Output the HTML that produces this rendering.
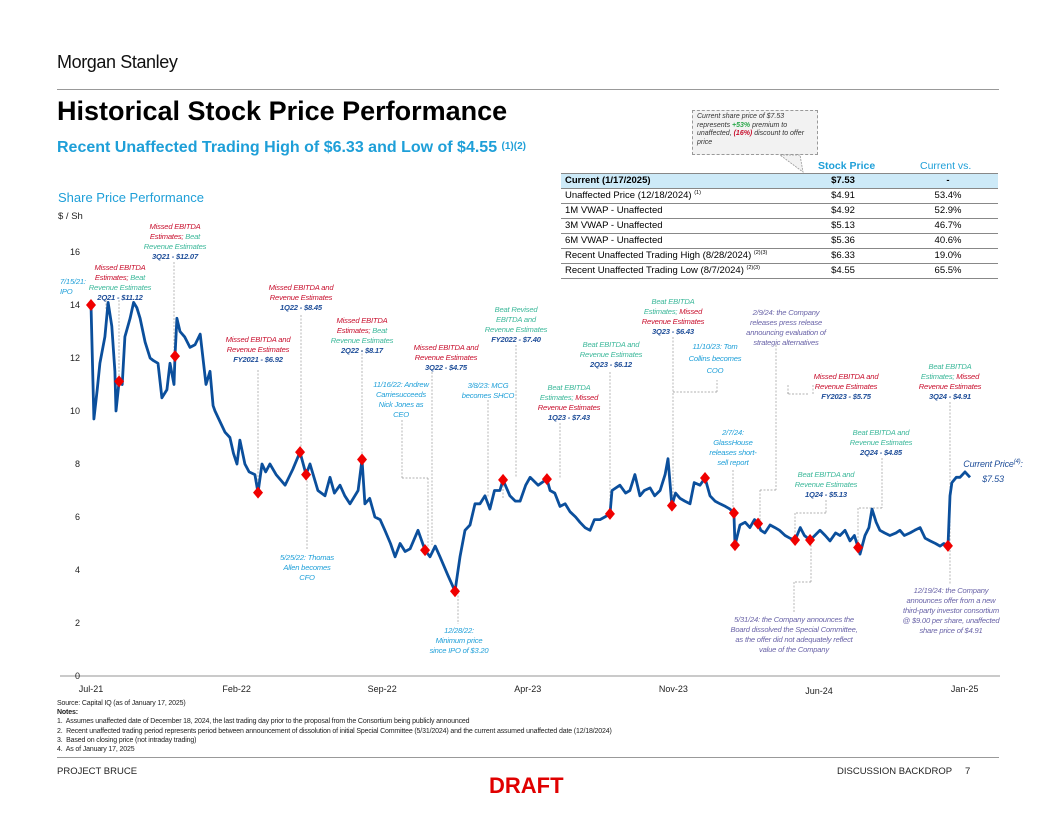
<!DOCTYPE html>
<html><head><meta charset="utf-8"><style>
body{margin:0;width:1056px;height:816px;background:#fff;position:relative;overflow:hidden;font-family:"Liberation Sans",sans-serif;}
.a{position:absolute;font-size:7.6px;line-height:10px;font-style:italic;text-align:center;white-space:nowrap;transform:translateX(-50%);letter-spacing:-0.2px}
.r{color:#c8102e}.g{color:#3cb89a}.b{color:#1f4e99;font-weight:bold}.lb{color:#1e9fd8}.p{color:#6a64a8}
table{border-collapse:collapse;font-size:9.5px;table-layout:fixed}
td{padding:0 4px;height:14px;border-bottom:1px solid #888;white-space:nowrap;line-height:12px}
sup{font-size:5.5px;line-height:0}
</style></head><body>
<div style="position:absolute;left:57px;top:52px;font-size:18px;color:#111;letter-spacing:-0.4px">Morgan Stanley</div>
<div style="position:absolute;left:57px;top:89px;width:942px;height:1px;background:#999"></div>
<div style="position:absolute;left:57px;top:96px;font-size:27px;font-weight:bold;color:#000">Historical Stock Price Performance</div>
<div style="position:absolute;left:57px;top:139px;font-size:16px;font-weight:bold;color:#1e9fd8">Recent Unaffected Trading High of $6.33 and Low of $4.55 <span style="font-size:10px;vertical-align:3px">(1)(2)</span></div>
<div style="position:absolute;left:692px;top:110px;width:126px;height:45px;border:1px dashed #999;background:#f2f2f2;font-size:7px;font-style:italic;line-height:8.5px;padding:2px 4px;box-sizing:border-box;color:#333">Current share price of $7.53 represents <span style="color:#2aa84a;font-weight:bold">+53%</span> premium to unaffected, <span style="color:#c8102e;font-weight:bold">(16%)</span> discount to offer price</div>
<svg style="position:absolute;left:0;top:0" width="1056" height="816"><polygon points="780,155 800,155 803,172" fill="#f2f2f2" stroke="#999" stroke-dasharray="2,1" stroke-width="0.8"/></svg>
<div style="position:absolute;left:818px;top:160px;font-size:10.5px;font-weight:bold;color:#1e9fd8">Stock Price</div>
<div style="position:absolute;left:920px;top:160px;font-size:10.5px;color:#1e9fd8">Current vs.</div>
<table style="position:absolute;left:561px;top:173px;width:437px;border-top:1px solid #888">
<colgroup><col style="width:227px"><col style="width:110px"><col style="width:100px"></colgroup>
<tr style="background:#cdeaf8;font-weight:bold"><td>Current (1/17/2025)</td><td style="text-align:center">$7.53</td><td style="text-align:center">-</td></tr>
<tr><td>Unaffected Price (12/18/2024) <sup>(1)</sup></td><td style="text-align:center">$4.91</td><td style="text-align:center">53.4%</td></tr>
<tr><td>1M VWAP - Unaffected</td><td style="text-align:center">$4.92</td><td style="text-align:center">52.9%</td></tr>
<tr><td>3M VWAP - Unaffected</td><td style="text-align:center">$5.13</td><td style="text-align:center">46.7%</td></tr>
<tr><td>6M VWAP - Unaffected</td><td style="text-align:center">$5.36</td><td style="text-align:center">40.6%</td></tr>
<tr><td>Recent Unaffected Trading High (8/28/2024) <sup>(2)(3)</sup></td><td style="text-align:center">$6.33</td><td style="text-align:center">19.0%</td></tr>
<tr><td>Recent Unaffected Trading Low (8/7/2024) <sup>(2)(3)</sup></td><td style="text-align:center">$4.55</td><td style="text-align:center">65.5%</td></tr>
</table>
<div style="position:absolute;left:58px;top:190px;font-size:13px;color:#1e9fd8">Share Price Performance</div>
<div style="position:absolute;left:58px;top:211px;font-size:9.5px;color:#222">$ / Sh</div>
<svg id="chart" style="position:absolute;left:0;top:0" width="1056" height="816"></svg>

<div class="a lb" style="left:60px;top:277px;text-align:left;transform:none">7/15/21:<br>IPO</div>
<div class="a" style="left:120px;top:263px"><span class="r">Missed EBITDA<br>Estimates; </span><span class="g">Beat<br>Revenue Estimates</span><br><span class="b">2Q21 - $11.12</span></div>
<div class="a" style="left:175px;top:222px"><span class="r">Missed EBITDA<br>Estimates; </span><span class="g">Beat<br>Revenue Estimates</span><br><span class="b">3Q21 - $12.07</span></div>
<div class="a" style="left:258px;top:335px"><span class="r">Missed EBITDA and<br>Revenue Estimates</span><br><span class="b">FY2021 - $6.92</span></div>
<div class="a" style="left:301px;top:283px"><span class="r">Missed EBITDA and<br>Revenue Estimates</span><br><span class="b">1Q22 - $8.45</span></div>
<div class="a" style="left:362px;top:316px"><span class="r">Missed EBITDA<br>Estimates; </span><span class="g">Beat<br>Revenue Estimates</span><br><span class="b">2Q22 - $8.17</span></div>
<div class="a lb" style="left:401px;top:380px">11/16/22: Andrew<br>Carriesucceeds<br>Nick Jones as<br>CEO</div>
<div class="a" style="left:446px;top:343px"><span class="r">Missed EBITDA and<br>Revenue Estimates</span><br><span class="b">3Q22 - $4.75</span></div>
<div class="a lb" style="left:488px;top:381px">3/8/23: MCG<br>becomes SHCO</div>
<div class="a" style="left:516px;top:305px"><span class="g">Beat Revised<br>EBITDA and<br>Revenue Estimates</span><br><span class="b">FY2022 - $7.40</span></div>
<div class="a" style="left:569px;top:383px"><span class="g">Beat EBITDA<br>Estimates; </span><span class="r">Missed<br>Revenue Estimates</span><br><span class="b">1Q23 - $7.43</span></div>
<div class="a" style="left:611px;top:340px"><span class="g">Beat EBITDA and<br>Revenue Estimates</span><br><span class="b">2Q23 - $6.12</span></div>
<div class="a" style="left:673px;top:297px"><span class="g">Beat EBITDA<br>Estimates; </span><span class="r">Missed<br>Revenue Estimates</span><br><span class="b">3Q23 - $6.43</span></div>
<div class="a lb" style="left:715px;top:341px;line-height:12px">11/10/23: Tom<br>Collins becomes<br>COO</div>
<div class="a p" style="left:786px;top:308px">2/9/24: the Company<br>releases press release<br>announcing evaluation of<br>strategic alternatives</div>
<div class="a" style="left:846px;top:372px"><span class="r">Missed EBITDA and<br>Revenue Estimates</span><br><span class="b">FY2023 - $5.75</span></div>
<div class="a" style="left:950px;top:362px"><span class="g">Beat EBITDA<br>Estimates; </span><span class="r">Missed<br>Revenue Estimates</span><br><span class="b">3Q24 - $4.91</span></div>
<div class="a lb" style="left:733px;top:428px">2/7/24:<br>GlassHouse<br>releases short-<br>sell report</div>
<div class="a" style="left:881px;top:428px"><span class="g">Beat EBITDA and<br>Revenue Estimates</span><br><span class="b">2Q24 - $4.85</span></div>
<div class="a" style="left:826px;top:470px"><span class="g">Beat EBITDA and<br>Revenue Estimates</span><br><span class="b">1Q24 - $5.13</span></div>
<div class="a" style="left:993px;top:457px;font-size:9px;line-height:15px;color:#1f4e99">Current Price<sup style="font-size:6px">(4)</sup>:<br>$7.53</div>
<div class="a lb" style="left:307px;top:553px">5/25/22: Thomas<br>Allen becomes<br>CFO</div>
<div class="a lb" style="left:459px;top:626px">12/28/22:<br>Minimum price<br>since IPO of $3.20</div>
<div class="a p" style="left:794px;top:615px">5/31/24: the Company announces the<br>Board dissolved the Special Committee,<br>as the offer did not adequately reflect<br>value of the Company</div>
<div class="a p" style="left:951px;top:586px">12/19/24: the Company<br>announces offer from a new<br>third-party investor consortium<br>@ $9.00 per share, unaffected<br>share price of $4.91</div>

<div style="position:absolute;left:57px;top:699px;font-size:7px;line-height:9.2px;color:#222;letter-spacing:-0.15px">Source: Capital IQ (as of January 17, 2025)<br><b>Notes:</b><br>1.&nbsp; Assumes unaffected date of December 18, 2024, the last trading day prior to the proposal from the Consortium being publicly announced<br>2.&nbsp; Recent unaffected trading period represents period between announcement of dissolution of initial Special Committee (5/31/2024) and the current assumed unaffected date (12/18/2024)<br>3.&nbsp; Based on closing price (not intraday trading)<br>4.&nbsp; As of January 17, 2025</div>
<div style="position:absolute;left:57px;top:757px;width:942px;height:1px;background:#999"></div>
<div style="position:absolute;left:57px;top:766px;font-size:9.5px;color:#222">PROJECT BRUCE</div>
<div style="position:absolute;left:837px;top:766px;font-size:9.5px;color:#222">DISCUSSION BACKDROP</div>
<div style="position:absolute;left:965px;top:766px;font-size:9.5px;color:#222">7</div>
<div style="position:absolute;left:489px;top:773px;font-size:22px;font-weight:bold;color:#e00000">DRAFT</div>

<script>
// months since Jul-2021
const times=[0,0.14,0.3,0.43,0.67,0.82,1.0,1.15,1.2,1.35,1.5,1.63,1.88,2.05,2.2,2.36,2.6,2.84,3.0,3.22,3.41,3.65,3.8,3.99,4.04,4.13,4.28,4.5,4.76,5.0,5.25,5.53,5.72,5.87,5.96,6.2,6.44,6.68,6.85,7.02,7.16,7.4,7.6,7.88,8.03,8.22,8.4,8.6,8.9,9.33,9.7,10.05,10.34,10.53,10.91,11.25,11.49,11.7,11.97,12.2,12.45,12.84,13.03,13.17,13.4,13.65,13.9,14.13,14.4,14.62,14.86,15.1,15.34,15.72,16.06,16.3,16.55,16.78,17.16,17.5,17.74,17.98,18.22,18.46,18.7,18.94,19.18,19.4,19.66,19.81,20.14,20.4,20.63,20.9,21.11,21.5,21.92,22.07,22.3,22.55,22.8,23.03,23.3,23.51,23.75,23.99,24.2,24.47,24.7,24.95,25.05,25.43,25.7,25.91,26.15,26.39,26.6,26.88,27.1,27.36,27.6,27.74,27.93,28.1,28.32,28.55,28.8,29.0,29.28,29.52,29.76,30.0,30.24,30.5,30.72,30.91,30.96,31.2,31.45,31.68,31.9,32.07,32.2,32.4,32.65,32.88,33.1,33.37,33.6,33.85,34.1,34.3,34.57,34.8,35.05,35.3,35.53,35.8,36.01,36.25,36.49,36.7,36.88,36.97,37.21,37.4,37.55,37.75,37.93,38.15,38.41,38.7,38.89,39.1,39.38,39.6,39.86,40.1,40.34,40.6,40.82,41.0,41.2,41.3,41.39,41.6,41.78,42.02,42.26];
const prices=[14.0,9.7,10.8,11.8,12.8,14.1,13.2,11.5,10.0,11.12,11.0,12.8,13.5,14.1,13.9,13.5,12.6,12.0,11.9,11.8,10.5,10.8,11.8,11.0,12.07,13.5,13.0,12.8,12.4,12.5,12.9,11.0,11.5,10.2,10.0,9.6,9.2,9.0,8.4,8.0,8.9,8.0,7.7,7.6,6.92,8.0,7.7,8.0,7.6,7.2,7.8,8.45,7.6,8.0,7.0,6.8,7.5,6.9,7.2,6.8,6.5,7.0,8.17,6.5,6.7,6.0,5.9,5.5,5.0,4.5,5.0,4.7,4.8,5.5,4.75,4.5,4.9,4.5,3.8,3.2,4.5,5.5,5.7,6.5,6.5,6.8,6.3,7.0,7.0,7.4,6.8,6.6,6.6,7.2,7.5,7.2,7.43,7.0,6.9,6.4,6.5,6.2,6.0,5.8,5.6,5.5,5.9,5.9,6.0,6.12,7.0,7.2,6.9,7.0,7.6,6.8,7.0,7.1,6.8,7.0,7.6,8.2,6.43,6.9,6.7,6.6,6.5,7.3,7.2,7.47,6.8,6.6,6.5,6.4,6.3,6.15,4.94,5.7,5.8,5.6,5.9,5.75,5.5,5.4,5.7,5.6,5.5,5.3,5.2,5.13,5.6,5.3,5.13,5.3,5.5,5.3,5.1,5.4,5.3,5.5,5.1,5.3,4.85,4.6,5.3,5.6,6.3,5.8,5.5,5.4,5.3,5.4,5.5,5.3,5.4,5.5,5.6,5.2,5.1,5.0,4.9,5.0,4.91,6.8,7.3,7.5,7.5,7.7,7.5];
const eventTimes=[0,1.35,4.04,8.03,10.05,10.34,13.03,16.06,17.5,19.81,21.92,24.95,27.93,29.52,30.91,30.96,32.07,33.85,34.57,36.88,41.2];
const eventPrices=[14.0,11.12,12.07,6.92,8.45,7.6,8.17,4.75,3.2,7.4,7.43,6.12,6.43,7.47,6.15,4.94,5.75,5.13,5.13,4.85,4.91];
const yTicks=[0,2,4,6,8,10,12,14,16];
const xTickLabels=["Jul-21","Feb-22","Sep-22","Apr-23","Nov-23","Jun-24","Jan-25"];
const xTickMonths=[0,7,14,21,28,35,42];
const NS="http://www.w3.org/2000/svg";
const svg=document.getElementById('chart');
const X=m=>91+m*20.8;
const Y=v=>676-v*26.5;
function mk(tag,attrs){const e=document.createElementNS(NS,tag);for(const k in attrs)e.setAttribute(k,attrs[k]);svg.appendChild(e);return e;}
let ax=mk('line',{x1:60,x2:1000,y1:676,y2:676,stroke:'#aaa','stroke-width':1.2});

yTicks.forEach(v=>{const t=mk('text',{x:80,y:Y(v)+3,'text-anchor':'end','font-size':9,fill:'#222','font-family':'Liberation Sans'});t.textContent=v;

});
xTickLabels.forEach((l,i)=>{const t=mk('text',{x:X(xTickMonths[i]),y:692+(i==5?2:0),'text-anchor':'middle','font-size':9,fill:'#222','font-family':'Liberation Sans'});t.textContent=l;

});
const leaders=[[119,300,119,380],[174,262,174,355],[258,370,258,490],[301,315,301,452],[362,350,362,458],[402,420,402,478],[402,478,428,478],[428,478,428,548],[432,372,432,545],[488,400,488,498],[503,498,503,478],[516,345,516,478],[560,423,560,478],[610,372,610,512],[673,337,673,505],[673,392,717,392],[717,392,717,380],[776,345,776,490],[776,490,760,490],[760,490,760,522],[788,394,788,384],[813,394,813,384],[808,394,788,394],[788,394,788,390],[882,458,882,508],[882,508,858,508],[858,508,858,545],[826,500,826,513],[826,513,795,513],[795,513,795,540],[950,402,950,545],[307,477,307,550],[458,592,458,624],[811,545,811,582],[811,582,794,582],[794,582,794,612],[950,550,950,584],[733,470,733,510],[106,300,106,310]];
leaders.forEach(l=>{const e=mk('line',{x1:l[0],y1:l[1],x2:l[2],y2:l[3],stroke:'#999','stroke-width':0.7,'stroke-dasharray':'2,1.5'});

});
const d=times.map((t,i)=>(i?'L':'M')+X(t).toFixed(1)+','+Y(prices[i]).toFixed(1)).join('');
const pl=mk('path',{d:d,fill:'none',stroke:'#0b4f9c','stroke-width':2.8,'stroke-linejoin':'round'});


eventTimes.forEach((t,i)=>{const x=X(t),y=Y(eventPrices[i]);
const e=mk('polygon',{points:`${x},${y-6} ${x+5},${y} ${x},${y+6} ${x-5},${y}`,fill:'#f00000'});

});
</script>
</body></html>
